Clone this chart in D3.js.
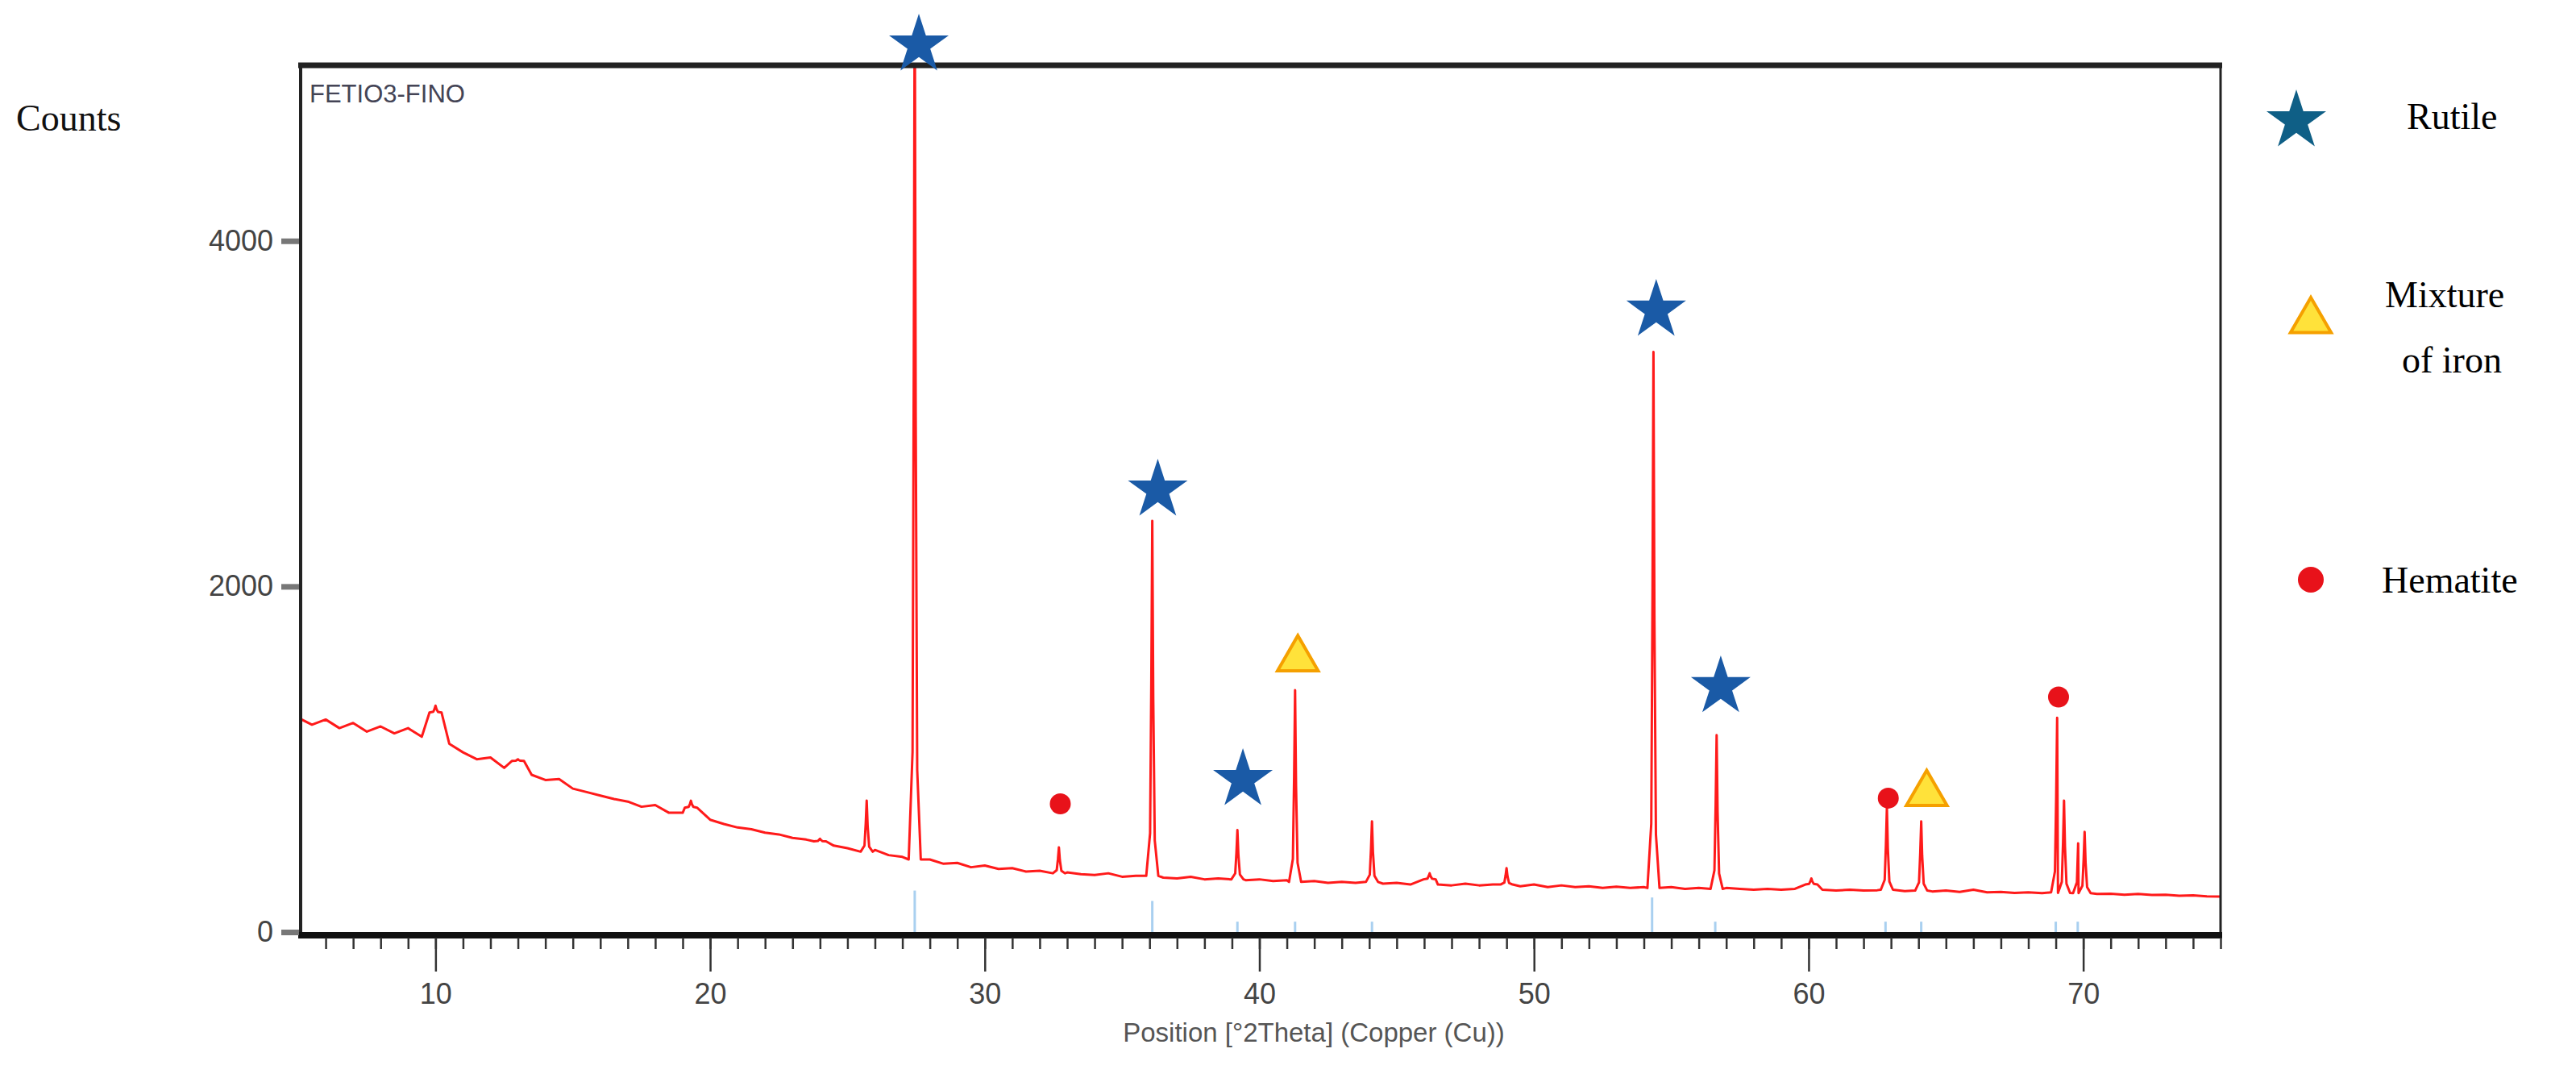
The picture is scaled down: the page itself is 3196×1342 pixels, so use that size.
<!DOCTYPE html>
<html><head><meta charset="utf-8">
<script src="https://cdn.jsdelivr.net/npm/d3@7"></script>
<style>body{margin:0;background:#fff}</style>
</head><body><div id="chart"></div>
<script>
// background counts every 0.5 deg, 5..75
let bgStart = 5, bgStep = 0.5;
let background = [1240,1200,1230,1180,1210,1160,1190,1150,1180,1130,1270,1090,1040,1000,1010,950,990,910,880,885,
 830,810,790,770,755,725,735,690,690,720,650,625,605,595,575,565,545,535,525,500,
 485,465,475,445,435,420,420,395,400,375,385,365,370,350,355,340,345,335,330,340,
 320,325,325,315,310,320,305,310,305,300,305,295,300,290,295,285,290,285,290,280,
 285,275,305,275,270,280,270,275,275,265,275,260,270,260,265,255,262,255,260,255,
 260,250,255,250,255,250,245,250,245,250,275,245,240,245,240,242,245,237,240,235,
 240,232,245,230,232,226,230,225,230,226,225,220,222,216,220,215,216,210,212,206,205];
// diffraction peaks [2theta, counts]
let peaks = [[10.0,1310],[13.0,1000],[19.3,760],[24.0,540],[25.7,760],[27.45,5600],[32.7,490],
 [36.1,2380],[39.2,590],[41.3,1400],[44.1,640],[46.2,340],[49.0,370],[54.35,3357],[56.65,1140],
 [60.1,310],[62.85,720],[64.1,640],[69.05,1240],[69.3,760],[69.85,750],[70.05,580]];
// reference sticks
let sticks = [[27.45,240],[36.1,180],[39.2,60],[41.3,60],[44.1,60],[54.3,200],[56.6,60],[62.8,60],[64.1,60],[69.0,60],[69.8,60]];
let rutile = [[27.6,5133],[36.3,2557],[39.4,882],[54.45,3598],[56.8,1419]];
let ironMix = [[41.4,1580],[64.3,800]];
let hematite = [[32.75,742],[62.9,775],[69.1,1360]];
let xTicks = [10,20,30,40,50,60,70];
let yTicks = [0,2000,4000];

let W = 3196, H = 1342;
let svg = d3.select("#chart").append("svg")
  .attr("width", W).attr("height", H)
  .attr("viewBox", "0 0 " + W + " " + H);

let x = d3.scaleLinear().domain([5, 75]).range([370, 2755]);
let y = d3.scaleLinear().domain([0, 5016]).range([1156, 81]);

svg.append("defs").append("clipPath").attr("id", "clip")
  .append("rect").attr("x", 374).attr("y", 84).attr("width", 2380).attr("height", 1072);

// build profile points: background plus narrow triangular peaks
let pts = background.map((v, i) => [bgStart + i * bgStep, v]);
function bgAt(t) {
  let i = Math.min(background.length - 1, Math.round((t - bgStart) / bgStep));
  return background[i];
}
peaks.forEach(p => {
  let b = bgAt(p[0]);
  pts = pts.filter(q => Math.abs(q[0] - p[0]) > 0.22);
  pts.push([p[0] - 0.22, b], [p[0] - 0.08, b + (p[1] - b) * 0.12], [p[0] - 0.035, b + (p[1] - b) * 0.55], [p[0], p[1]],
           [p[0] + 0.035, b + (p[1] - b) * 0.5], [p[0] + 0.09, b + (p[1] - b) * 0.1], [p[0] + 0.22, b]);
});
pts.sort((a, b) => a[0] - b[0]);

// sticks
svg.append("g").selectAll("line").data(sticks).enter().append("line")
  .attr("x1", d => x(d[0])).attr("x2", d => x(d[0]))
  .attr("y1", y(0)).attr("y2", d => y(d[1]))
  .attr("stroke", "#a9d0f0").attr("stroke-width", 3);

svg.append("path").datum(pts)
  .attr("clip-path", "url(#clip)")
  .attr("fill", "none").attr("stroke", "#ff1a1a").attr("stroke-width", 3)
  .attr("stroke-linejoin", "round")
  .attr("d", d3.line().x(d => x(d[0])).y(d => y(d[1])));

// frame
svg.append("line").attr("x1", 370).attr("x2", 2757).attr("y1", 81).attr("y2", 81).attr("stroke", "#222").attr("stroke-width", 7);
svg.append("line").attr("x1", 373).attr("x2", 373).attr("y1", 78).attr("y2", 1160).attr("stroke", "#222").attr("stroke-width", 4);
svg.append("line").attr("x1", 2755).attr("x2", 2755).attr("y1", 78).attr("y2", 1160).attr("stroke", "#222").attr("stroke-width", 3);
svg.append("line").attr("x1", 370).attr("x2", 2757).attr("y1", 1160).attr("y2", 1160).attr("stroke", "#111").attr("stroke-width", 8);

// x axis
let xg = svg.append("g").attr("transform", "translate(0,1163)")
  .call(d3.axisBottom(x).tickValues(d3.range(6, 76)).tickSize(14).tickFormat(""));
xg.select(".domain").remove();
xg.selectAll("line").attr("stroke", "#333").attr("stroke-width", 2.5);
let xg2 = svg.append("g").attr("transform", "translate(0,1163)")
  .call(d3.axisBottom(x).tickValues(xTicks).tickSize(42).tickPadding(14));
xg2.select(".domain").remove();
xg2.selectAll("line").attr("stroke", "#333").attr("stroke-width", 2.5);
xg2.selectAll("text").attr("font-family", "Liberation Sans, Arial").attr("font-size", 36).attr("fill", "#444");

// y axis
let yg = svg.append("g").attr("transform", "translate(371,0)")
  .call(d3.axisLeft(y).tickValues(yTicks).tickFormat(d3.format("d")).tickSize(22).tickPadding(10));
yg.select(".domain").remove();
yg.selectAll("line").attr("stroke", "#777").attr("stroke-width", 7);
yg.selectAll("text").attr("font-family", "Liberation Sans, Arial").attr("font-size", 36).attr("fill", "#444");

svg.append("text").attr("x", 384).attr("y", 127).attr("font-family", "Liberation Sans, Arial")
  .attr("font-size", 31).attr("fill", "#445").text("FETIO3-FINO");
svg.append("text").attr("x", 1630).attr("y", 1292).attr("text-anchor", "middle").attr("font-family", "Liberation Sans, Arial")
  .attr("font-size", 33).attr("fill", "#555").text("Position [°2Theta] (Copper (Cu))");
svg.append("text").attr("x", 20).attr("y", 162).attr("font-family", "Liberation Serif, serif")
  .attr("font-size", 46).attr("fill", "#111").text("Counts");

// markers
let star = d3.symbol().type(d3.symbolStar).size(1700);
let tri = d3.symbol().type(d3.symbolTriangle).size(1100);
svg.append("g").selectAll("path").data(rutile).enter().append("path")
  .attr("d", star).attr("fill", "#1a5aa6")
  .attr("transform", d => "translate(" + x(d[0]) + "," + y(d[1]) + ")");
svg.append("g").selectAll("path").data(ironMix).enter().append("path")
  .attr("d", tri).attr("fill", "#ffe23a").attr("stroke", "#f5a000").attr("stroke-width", 4)
  .attr("transform", d => "translate(" + x(d[0]) + "," + y(d[1]) + ")");
svg.append("g").selectAll("circle").data(hematite).enter().append("circle")
  .attr("cx", d => x(d[0])).attr("cy", d => y(d[1])).attr("r", 13).attr("fill", "#e8121a");

// legend
svg.append("path").attr("d", star).attr("fill", "#0f5f86").attr("transform", "translate(2849,150)");
svg.append("path").attr("d", tri).attr("fill", "#ffe23a").attr("stroke", "#f5a000").attr("stroke-width", 4).attr("transform", "translate(2867,398)");
svg.append("circle").attr("cx", 2867).attr("cy", 719).attr("r", 16).attr("fill", "#e8121a");
let lf = "Liberation Serif, serif";
svg.append("text").attr("x", 2986).attr("y", 160).attr("font-family", lf).attr("font-size", 46).text("Rutile");
svg.append("text").attr("x", 2959).attr("y", 381).attr("font-family", lf).attr("font-size", 46).text("Mixture");
svg.append("text").attr("x", 2980).attr("y", 462).attr("font-family", lf).attr("font-size", 46).text("of iron");
svg.append("text").attr("x", 2955).attr("y", 735).attr("font-family", lf).attr("font-size", 46).text("Hematite");
</script></body></html>
